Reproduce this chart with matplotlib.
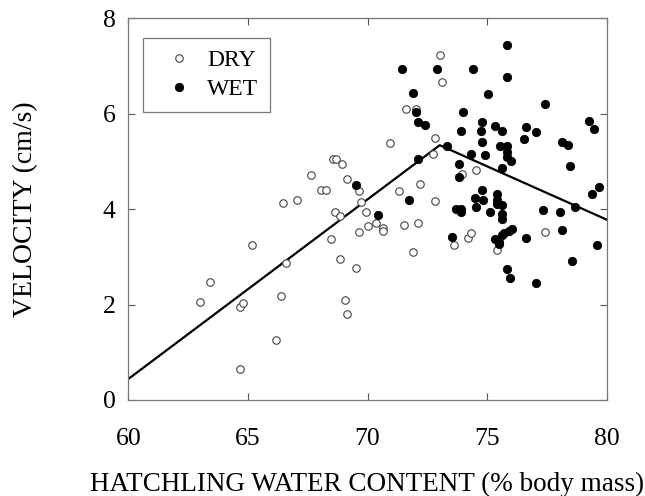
import matplotlib
matplotlib.use("Agg")
import matplotlib.pyplot as plt

# Dry-incubated hatchlings: water content (% body mass) and sprint velocity (cm/s)
dry_water = [62.99, 63.40, 64.69, 64.78, 64.69, 65.18, 66.19, 66.38, 66.48, 66.59,
             67.07, 67.65, 68.07, 68.27, 68.46, 68.55, 68.67, 68.65, 68.84, 68.94,
             68.84, 69.15, 69.05, 69.15, 69.54, 69.63, 69.73, 69.63, 69.94, 70.04,
             70.34, 70.63, 70.63, 70.92, 71.32, 71.52, 71.63, 72.04, 71.92, 72.12,
             72.18, 72.73, 72.81, 72.81, 73.02, 73.12, 73.60, 73.96, 74.19, 74.34,
             74.53, 75.43, 77.44]
dry_velocity = [2.06, 2.47, 1.95, 2.03, 0.65, 3.25, 1.25, 2.19, 4.13, 2.87,
                4.20, 4.72, 4.41, 4.41, 3.37, 5.06, 5.06, 3.93, 3.85, 4.95,
                2.95, 4.63, 2.09, 1.80, 2.77, 4.38, 4.14, 3.52, 3.93, 3.64,
                3.71, 3.60, 3.54, 5.39, 4.39, 3.67, 6.10, 6.10, 3.11, 3.70,
                4.52, 5.15, 5.50, 4.17, 7.24, 6.67, 3.25, 4.73, 3.39, 3.51,
                4.82, 3.14, 3.53]

# Wet-incubated hatchlings
wet_water = [69.54, 70.44, 71.44, 71.73, 71.92, 72.02, 72.12, 72.12, 72.42, 72.91,
             73.31, 73.55, 73.71, 73.81, 73.81, 73.90, 73.90, 73.90, 74.00, 74.34,
             74.39, 74.50, 74.53, 74.74, 74.79, 74.79, 74.79, 74.83, 74.92, 75.03,
             75.13, 75.32, 75.32, 75.43, 75.43, 75.43, 75.48, 75.48, 75.53, 75.61,
             75.61, 75.61, 75.61, 75.61, 75.61, 75.72, 75.82, 75.82, 75.82, 75.82,
             75.82, 75.82, 75.92, 76.01, 75.96, 76.06, 76.53, 76.61, 76.61, 77.04,
             77.04, 77.34, 77.44, 78.04, 78.14, 78.14, 78.38, 78.45, 78.56, 78.66,
             79.24, 79.38, 79.48, 79.59, 79.66]
wet_velocity = [4.50, 3.87, 6.94, 4.20, 6.43, 6.04, 5.82, 5.05, 5.77, 6.94,
                5.32, 3.42, 4.00, 4.95, 4.67, 4.00, 3.93, 5.64, 6.03, 5.16,
                6.94, 4.24, 4.04, 5.63, 5.82, 5.41, 4.40, 4.20, 5.14, 6.41,
                3.95, 5.75, 3.37, 4.32, 4.19, 4.11, 3.32, 3.26, 5.32, 5.63,
                4.87, 4.08, 3.90, 3.80, 3.46, 3.51, 7.45, 6.76, 5.32, 5.19,
                5.09, 2.75, 3.54, 5.00, 2.56, 3.58, 5.48, 5.72, 3.39, 5.62,
                2.45, 3.98, 6.20, 3.93, 5.41, 3.56, 5.34, 4.90, 2.91, 4.05,
                5.85, 4.32, 5.68, 3.25, 4.46]

# Piecewise-linear fit: breakpoint at the peak
fit_water = [60.0, 73.02, 80.0]
fit_velocity = [0.44, 5.34, 3.78]

x_ticks = [60, 65, 70, 75, 80]
y_ticks = [0, 2, 4, 6, 8]

plt.rcParams["font.family"] = ["Liberation Serif", "DejaVu Serif"]

fig = plt.figure(figsize=(6.45, 4.96), dpi=100)
ax = fig.add_axes([128.3 / 645, 1 - 400 / 496, 478.4 / 645, 381.7 / 496])

ax.plot(fit_water, fit_velocity, color="black", lw=1.6, zorder=2)
ax.plot(dry_water, dry_velocity, linestyle="none", marker="o", markersize=5.4,
        markerfacecolor="white", markeredgecolor="#444444", markeredgewidth=0.8,
        label="DRY", zorder=3)
ax.plot(wet_water, wet_velocity, linestyle="none", marker="o", markersize=6.0,
        markerfacecolor="black", markeredgecolor="black", markeredgewidth=0.6,
        label="WET", zorder=4)

ax.set_xlim(60, 80)
ax.set_ylim(0, 8)
ax.set_xticks(x_ticks)
ax.set_yticks(y_ticks)
ax.tick_params(direction="in", length=5, width=0.8, top=True, right=True,
               labelsize=18.5, color="#555555")
ax.tick_params(axis="x", pad=20)
ax.tick_params(axis="y", pad=9)
for s in ax.spines.values():
    s.set_color("#777777")
    s.set_linewidth(0.9)

ax.set_xlabel("HATCHLING WATER CONTENT (% body mass)", fontsize=19.5, labelpad=16)
ax.set_ylabel("VELOCITY (cm/s)", fontsize=20, labelpad=47)

leg = ax.legend(loc="upper left", bbox_to_anchor=(0.031, 0.948), frameon=True,
                fancybox=False, edgecolor="#555555", fontsize=17, handletextpad=0.2,
                borderpad=0.5, labelspacing=0.3, markerscale=1.0, handlelength=2.0,
                borderaxespad=0)
leg.get_frame().set_linewidth(0.9)

fig.savefig("out.png", dpi=100)
